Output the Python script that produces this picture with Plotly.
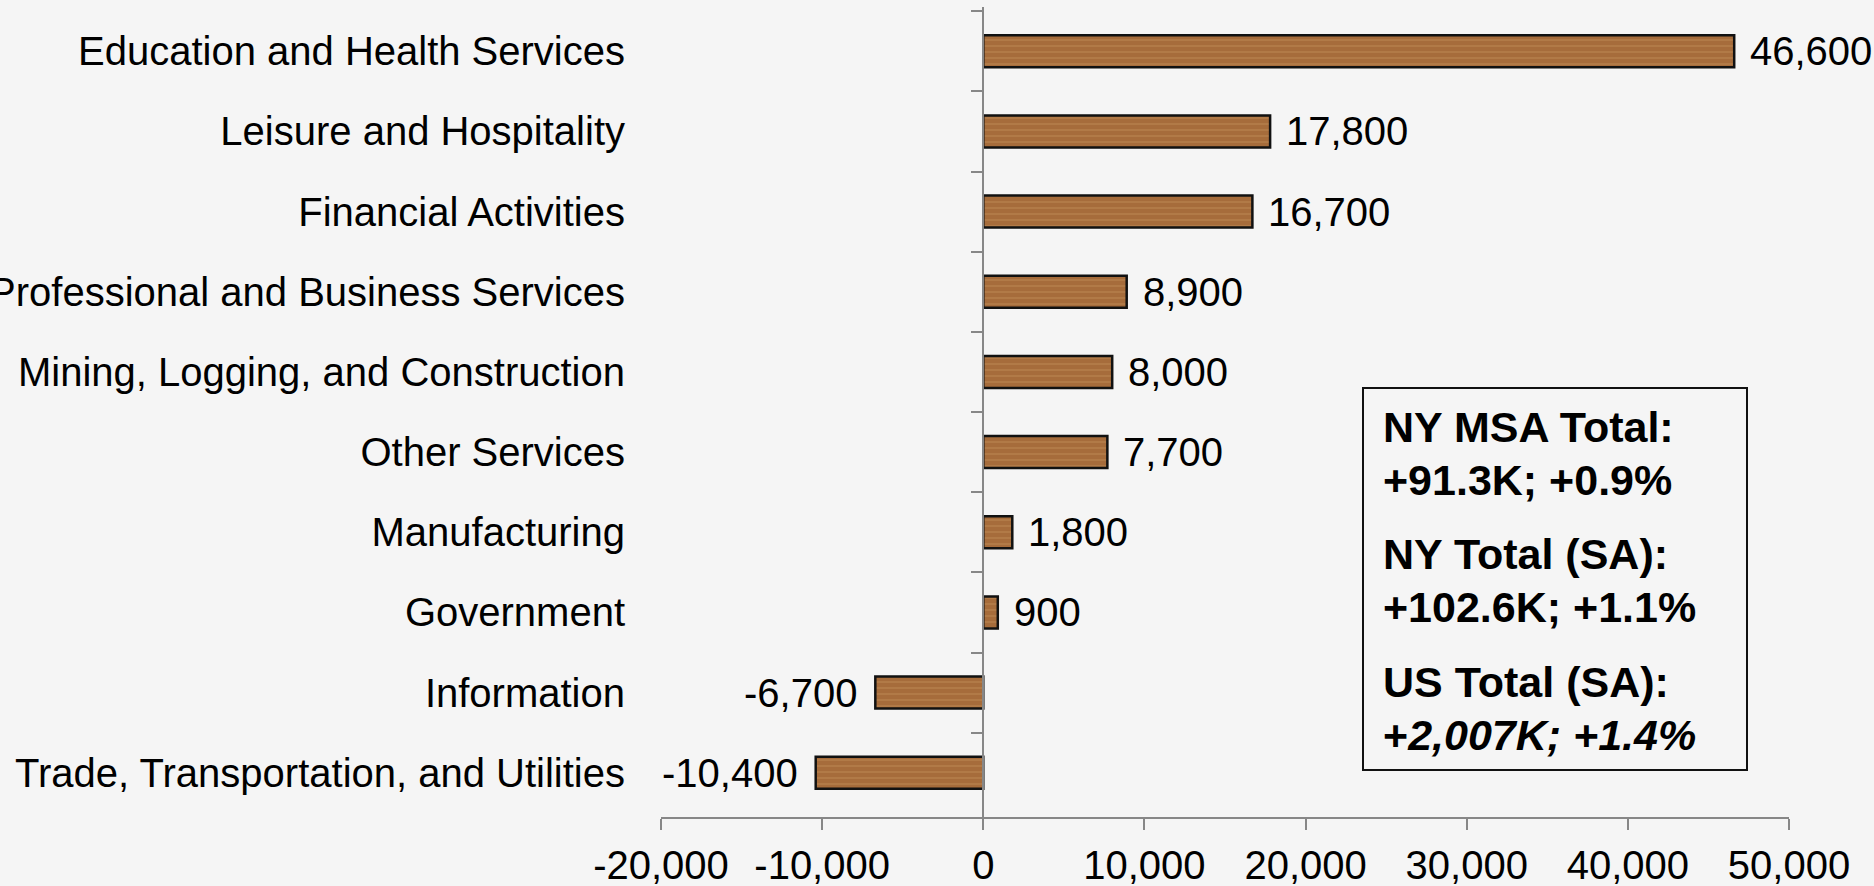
import plotly.graph_objects as go

# Employment change by industry, top to bottom
industries = [
    "Education and Health Services",
    "Leisure and Hospitality",
    "Financial Activities",
    "Professional and Business Services",
    "Mining, Logging, and Construction",
    "Other Services",
    "Manufacturing",
    "Government",
    "Information",
    "Trade, Transportation, and Utilities",
]
job_change = [46600, 17800, 16700, 8900, 8000, 7700, 1800, 900, -6700, -10400]

x_range = [-20000, 50000]
x_ticks = [-20000, -10000, 0, 10000, 20000, 30000, 40000, 50000]
x_tick_labels = [f"{v:,}" for v in x_ticks]

summary_lines = [
    "NY MSA Total:",
    "+91.3K; +0.9%",
    "NY Total (SA):",
    "+102.6K; +1.1%",
    "US Total (SA):",
    "+<i>2,007K; +1.4%</i>",
]

W, H = 1874, 886
M_L, M_R, M_T, M_B = 661, 85, 7, 69
FONT = "Arial, Liberation Sans, sans-serif"
AXIS_GREY = "#878787"
BG = "#f5f5f5"


def py(pixel_y):
    """Pixel row -> paper fraction of the plot area."""
    return (H - M_B - pixel_y) / (H - M_T - M_B)


def px(pixel_x):
    """Pixel column -> paper fraction of the plot area."""
    return (pixel_x - M_L) / (W - M_L - M_R)


fig = go.Figure()

fig.add_trace(go.Bar(
    x=job_change,
    y=industries,
    orientation="h",
    width=0.4,
    marker=dict(
        color="#a66c3b",
        line=dict(color="#111111", width=2.5),
        pattern=dict(shape="-", fgcolor="#c08d58", bgcolor="#a66c3b",
                     size=6, solidity=0.3, fgopacity=0.45),
    ),
    hoverinfo="skip",
    showlegend=False,
))

# invisible companion trace that carries the axis drawn at x = 0
fig.add_trace(go.Scatter(
    x=job_change, y=industries, yaxis="y2", mode="markers",
    marker=dict(opacity=0), hoverinfo="skip", showlegend=False,
))

# value labels at the bar ends
for name, val in zip(industries, job_change):
    fig.add_annotation(
        x=val, y=name, text=f"{val:,}", showarrow=False,
        xanchor="left" if val >= 0 else "right",
        xshift=14 if val >= 0 else -16,
        font=dict(family=FONT, size=40, color="#000000"),
    )

# summary box
fig.add_shape(
    type="rect", xref="paper", yref="paper",
    x0=px(1363), x1=px(1747), y0=py(770), y1=py(388),
    line=dict(color="#111111", width=2), fillcolor=BG, layer="above",
)
line_centres = [427, 480, 554, 607, 682, 735]
for text, yc in zip(summary_lines, line_centres):
    fig.add_annotation(
        x=px(1381), y=py(yc), xref="paper", yref="paper",
        text=f"<b>{text}</b>", showarrow=False,
        xanchor="left", yanchor="middle",
        font=dict(family=FONT, size=43, color="#000000"),
    )

fig.update_layout(
    width=W, height=H,
    margin=dict(l=M_L, r=M_R, t=M_T, b=M_B, autoexpand=False),
    paper_bgcolor=BG, plot_bgcolor=BG,
    font=dict(family=FONT, size=40, color="#000000"),
    bargap=0.6,
    xaxis=dict(
        range=x_range, tickvals=x_ticks, ticktext=x_tick_labels,
        automargin=False,
        showgrid=False, zeroline=False,
        showline=True, linecolor=AXIS_GREY, linewidth=2,
        ticks="outside", ticklen=11, tickwidth=2, tickcolor=AXIS_GREY,
        tickfont=dict(family=FONT, size=40, color="#000000"),
        ticklabelstandoff=1,
    ),
    yaxis=dict(
        type="category", autorange="reversed", automargin=False,
        showgrid=False, zeroline=False, showline=False, ticks="",
        tickfont=dict(family=FONT, size=40, color="#000000"),
        ticklabelstandoff=35,
    ),
    yaxis2=dict(
        type="category", overlaying="y", matches="y", anchor="free",
        automargin=False,
        position=(0 - x_range[0]) / (x_range[1] - x_range[0]),
        side="left", showticklabels=False, showgrid=False, zeroline=False,
        showline=True, linecolor=AXIS_GREY, linewidth=2,
        ticks="outside", tickson="boundaries", ticklen=11, tickwidth=2,
        tickcolor=AXIS_GREY,
    ),
)

fig.write_html("out.html")
